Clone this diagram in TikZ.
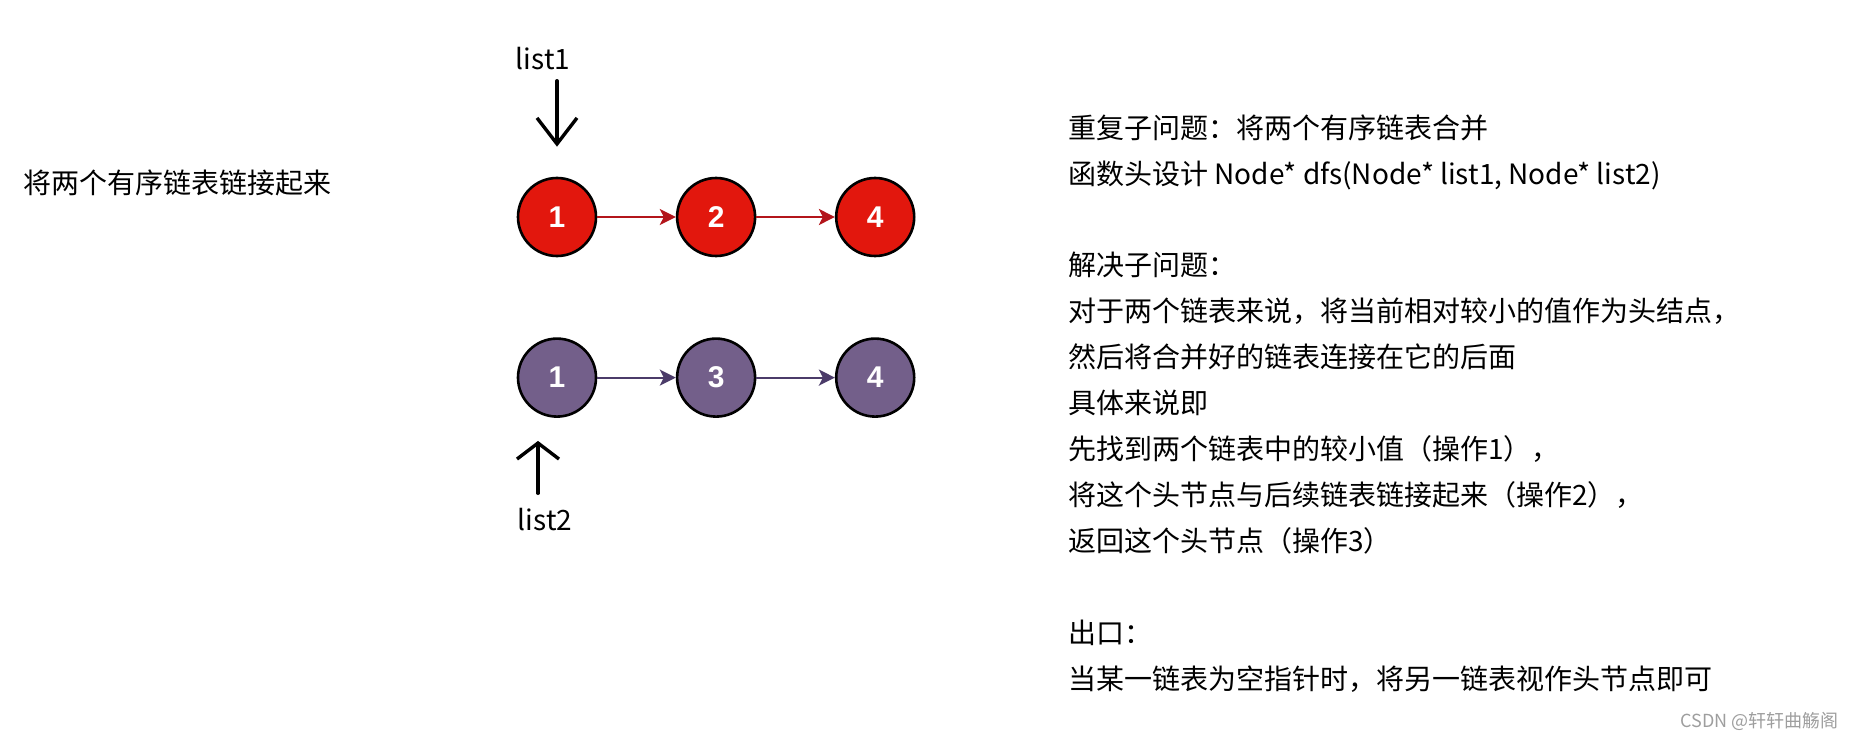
\documentclass[tikz,border=0pt]{standalone}
\usepackage{fontspec}
\setmainfont{Noto Sans CJK SC}
\newfontfamily\numfont{Liberation Sans}
\usepackage{tikz}
\usetikzlibrary{arrows.meta,positioning}
\definecolor{nodered}{HTML}{E2170D}
\definecolor{linkred}{HTML}{B3151B}
\definecolor{nodepurple}{HTML}{735F8A}
\definecolor{linkpurple}{HTML}{4B3B69}

\begin{document}
\begin{tikzpicture}[x=0.5pt,y=-0.5pt,
  elem/.style={circle,draw=black,line width=1.3pt,minimum size=39pt,inner sep=0pt,text=white,font=\numfont\bfseries\fontsize{15}{15}\selectfont},
  link/.style={-{Stealth[length=8pt,width=8pt,inset=2pt]},line width=1.1pt},
  txt/.style={inner sep=0pt,font=\fontsize{14}{22.95}\selectfont},
  pen/.style={line width=1.7pt,line cap=round,line join=round}]
  \useasboundingbox (0,0) rectangle (1860,738);
  \node[txt,anchor=base west] (title) at (23,194) {将两个有序链表链接起来};
  % first list
  \node[elem,fill=nodered] (r1) at (557,217) {1};
  \node[elem,fill=nodered,right=39.25pt of r1] (r2) {2};
  \node[elem,fill=nodered,right=39.25pt of r2] (r3) {4};
  \draw[link,linkred] (r1) -- (r2);
  \draw[link,linkred] (r2) -- (r3);
  % second list
  \node[elem,fill=nodepurple,below=40pt of r1] (p1) {1};
  \node[elem,fill=nodepurple,right=39.25pt of p1] (p2) {3};
  \node[elem,fill=nodepurple,right=39.25pt of p2] (p3) {4};
  \draw[link,linkpurple] (p1) -- (p2);
  \draw[link,linkpurple] (p2) -- (p3);
  % head pointers
  \node[txt,anchor=base] (list1) at (543,70) {list1};
  \coordinate (tip1) at ([yshift=15pt]r1.north);
  \draw[pen,-{Straight Barb[length=13pt,width=20pt]}] ([yshift=-5pt]tip1 |- list1.south) -- (tip1);
  \node[txt,anchor=base] (list2) at (545,530) {list2};
  \coordinate (tip2) at ([xshift=-9.5pt,yshift=-11.5pt]p1.south);
  \draw[pen,-{Straight Barb[length=8pt,width=21pt]}] ([yshift=7pt]tip2 |- list2.north) -- (tip2);
  % explanation (base = last line)
  \node[txt,anchor=base west,align=left] (steps) at (1068,689) {重复子问题：将两个有序链表合并\\
    函数头设计 Node* dfs(Node* list1, Node* list2)\\[22.95pt]
    解决子问题：\\
    对于两个链表来说，将当前相对较小的值作为头结点，\\
    然后将合并好的链表连接在它的后面\\
    具体来说即\\
    先找到两个链表中的较小值（操作1），\\
    将这个头节点与后续链表链接起来（操作2），\\
    返回这个头节点（操作3）\\[22.95pt]
    出口：\\
    当某一链表为空指针时，将另一链表视作头节点即可};
  \node[anchor=base west,inner sep=0pt,font=\fontsize{9}{9}\selectfont,text=black!38] (mark) at (1680,727) {CSDN @轩轩曲觞阁};
\end{tikzpicture}
\end{document}
